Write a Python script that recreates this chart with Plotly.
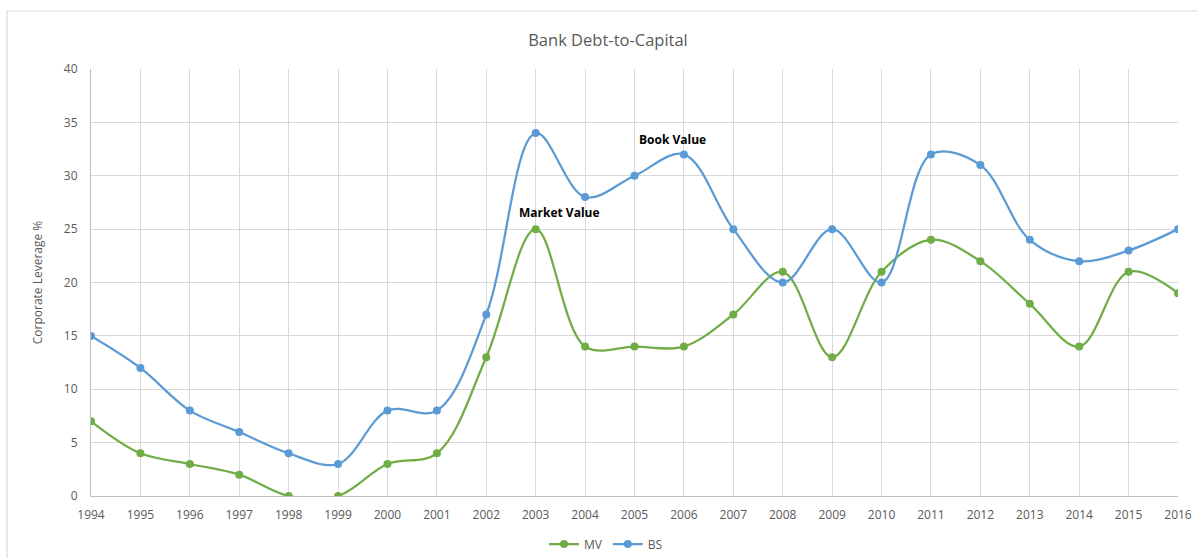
import plotly.graph_objects as go

years = list(range(1994, 2017))
mv = [7, 4, 3, 2, 0, 0, 3, 4, 13, 25, 14, 14, 14, 17, 21, 13, 21, 24, 22, 18, 14, 21, 19]
bs = [15, 12, 8, 6, 4, 3, 8, 8, 17, 34, 28, 30, 32, 25, 20, 25, 20, 32, 31, 24, 22, 23, 25]

GREEN = "#70AD47"
BLUE = "#5B9BD5"
FONT = "Open Sans"

fig = go.Figure()
fig.add_trace(go.Scatter(
    x=years, y=mv, name="MV", mode="lines+markers",
    line=dict(color=GREEN, width=2.25, shape="spline", smoothing=1.0),
    marker=dict(color=GREEN, size=8),
))
fig.add_trace(go.Scatter(
    x=years, y=bs, name="BS", mode="lines+markers",
    line=dict(color=BLUE, width=2.25, shape="spline", smoothing=1.0),
    marker=dict(color=BLUE, size=8),
))

# series labels
fig.add_annotation(x=2003.49, y=26.6, text="<b>Market Value</b>", showarrow=False,
                   font=dict(family=FONT, size=12, color="#000000"))
fig.add_annotation(x=2005.76, y=33.35, text="<b>Book Value</b>", showarrow=False,
                   font=dict(family=FONT, size=12, color="#000000"))

# chart-area frame
fig.add_shape(type="rect", xref="paper", yref="paper",
              x0=-0.0773, x1=1.03, y0=-0.25, y1=1.1358,
              line=dict(color="#D9D9D9", width=1.2), layer="below")

fig.update_layout(
    width=1197, height=558,
    margin=dict(l=91, r=19, t=69, b=62, autoexpand=False),
    paper_bgcolor="white", plot_bgcolor="white",
    font=dict(family=FONT, size=12, color="#595959"),
    title=dict(text="Bank Debt-to-Capital", x=608 / 1197, xref="container", xanchor="center",
               y=1 - 40 / 558, yref="container", yanchor="middle",
               font=dict(family=FONT, size=16.5, color="#595959")),
    legend=dict(orientation="h", x=606 / 1197, xref="container", xanchor="center",
                y=1 - 544 / 558, yref="container", yanchor="middle",
                font=dict(family=FONT, size=12, color="#595959")),
    showlegend=True,
)
fig.update_xaxes(
    range=[1994, 2016], tickmode="array", tickvals=years, ticktext=[str(y) for y in years],
    showgrid=True, gridcolor="#D9D9D9", gridwidth=1,
    showline=True, linecolor="#BFBFBF", linewidth=1.2, ticks="", zeroline=False,
    ticklabelstandoff=7,
    tickfont=dict(family=FONT, size=12, color="#595959"),
)
fig.update_yaxes(
    range=[0, 40], dtick=5, showgrid=True, gridcolor="#D9D9D9", gridwidth=1,
    showline=True, linecolor="#BFBFBF", linewidth=1.2, ticks="", zeroline=False,
    ticklabelstandoff=10,
    tickfont=dict(family=FONT, size=12, color="#595959"),
    title=dict(text="Corporate Leverage %", standoff=18,
               font=dict(family=FONT, size=12, color="#595959")),
)

fig.write_html("out.html")
